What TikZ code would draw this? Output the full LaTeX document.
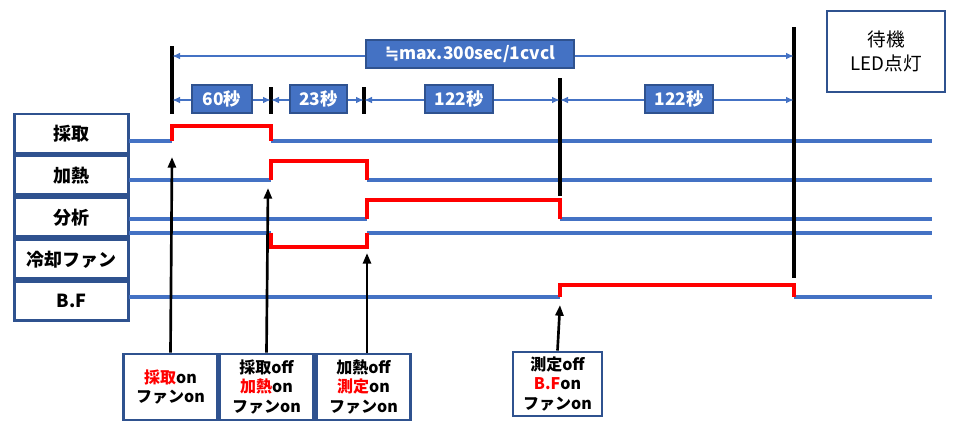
\documentclass[tikz,border=0pt]{standalone}
\usepackage{fontspec}
\setmainfont{Noto Sans CJK JP}
\newfontfamily\symfont{DejaVu Sans}
\usetikzlibrary{arrows.meta, positioning}
\definecolor{linblue}{HTML}{4472C4}
\definecolor{boxblue}{HTML}{2F528F}

\begin{document}
\begin{tikzpicture}[
  x=0.75pt, y=-0.75pt,
  node distance=0pt,
  rowbox/.style={rectangle, draw=boxblue, line width=2.2pt, fill=white,
                 minimum width=86pt, minimum height=29.25pt, inner sep=1pt,
                 font=\bfseries\fontsize{13.5}{16}\selectfont},
  tag/.style={rectangle, draw=boxblue, line width=1.8pt, fill=linblue, text=white,
              minimum height=21pt, inner xsep=7pt, inner ysep=0pt,
              font=\bfseries\fontsize{13}{15}\selectfont},
  note/.style={rectangle, draw=boxblue, line width=2.2pt, fill=white, align=center,
               minimum width=70pt, minimum height=49.5pt, inner sep=1pt,
               font=\bfseries\fontsize{12}{14.5}\selectfont},
  sig/.style={linblue, line width=2.3pt},
  hi/.style={red, line width=3.2pt},
  tick/.style={black, line width=2.3pt},
  span/.style={{Latex[length=6pt,width=5pt]}-{Latex[length=6pt,width=5pt]}, linblue, line width=1.8pt},
  trig/.style={-{Triangle[length=8pt,width=6pt]}, black, line width=2pt}
]
\useasboundingbox (0,0) rectangle (955,433);

% row labels
\node[rowbox] (saisyu) at (71.5,133.5) {採取};
\node[rowbox, below=of saisyu]  (kanetsu) {加熱};
\node[rowbox, below=of kanetsu] (bunseki) {分析};
\node[rowbox, below=of bunseki] (fan)     {冷却ファン};
\node[rowbox, below=of fan]     (bf)      {B.F};

\node[rowbox, minimum width=88.5pt, minimum height=60.75pt, align=center,
      font=\fontsize{14}{18}\selectfont] (standby) at (886,51.5) {待機\\LED点灯};

% signal traces
\draw[sig] (129,141) -- (172,141) (271,141) -- (932,141);
\draw[hi]  (172,141) -- (172,126) -- (271,126) -- (271,141);

\draw[sig] (129,180) -- (271,180) (367,180) -- (932,180);
\draw[hi]  (271,180) -- (271,161) -- (367,161) -- (367,180);

\draw[sig] (129,219) -- (367,219) (560,219) -- (932,219);
\draw[hi]  (367,219) -- (367,200) -- (560,200) -- (560,219);

\draw[sig] (129,233) -- (271,233) (367,233) -- (932,233);
\draw[hi]  (271,233) -- (271,247) -- (367,247) -- (367,233);

\draw[sig] (129,297) -- (560,297) (794,297) -- (932,297);
\draw[hi]  (560,297) -- (560,285) -- (794,285) -- (794,297);

% time marks
\draw[tick] (172,46) -- (172,114);
\draw[tick] (271,87) -- (271,114);
\draw[tick] (364,87) -- (364,114);
\draw[tick] (560,78) -- (560,196);
\draw[tick] (794,27) -- (794,278);

\coordinate (b0) at (172,56);
\coordinate (b4) at (794,56);
\coordinate (a0) at (172,100);
\coordinate (a1) at (271,100);
\coordinate (a2) at (364,100);
\coordinate (a3) at (560,100);
\coordinate (a4) at (794,100);

\draw[span] (b0) -- (b4);
\draw[span] (a0) -- (a1);
\draw[span] (a1) -- (a2);
\draw[span] (a2) -- (a3);
\draw[span] (a3) -- (a4);

\node[tag, minimum width=156pt] (cycle) at (470,54) {{\symfont ≒}max.300sec/1cvcl};
\node[tag, minimum width=45pt]  (d1) at (222,99) {60秒};
\node[tag, minimum width=41pt]  (d2) at (318.5,99) {23秒};
\node[tag, minimum width=50pt]  (d3) at (459,99) {122秒};
\node[tag, minimum width=51pt]  (d4) at (679,99) {122秒};

% triggers
\node[note] (n1) at (170.5,387) {\textcolor{red}{採取}on\\ファンon};
\node[note] (n2) at (266.5,387) {採取off\\\textcolor{red}{加熱}on\\ファンon};
\node[note] (n3) at (363.5,387) {加熱off\\\textcolor{red}{測定}on\\ファンon};
\node[note, minimum width=66.75pt, minimum height=48pt] (n4) at (557.5,384) {測定off\\\textcolor{red}{B.F}on\\ファンon};

\coordinate (p1) at (172,157);
\coordinate (p2) at (268,188);
\coordinate (p3) at (367,253);
\coordinate (p4) at (560,305);

\draw[trig] (n1.north) -- (p1);
\draw[trig] (n2.north) -- (p2);
\draw[trig] (n3.north -| p3) -- (p3);
\draw[trig] (n4.north) -- (p4);

\end{tikzpicture}
\end{document}
